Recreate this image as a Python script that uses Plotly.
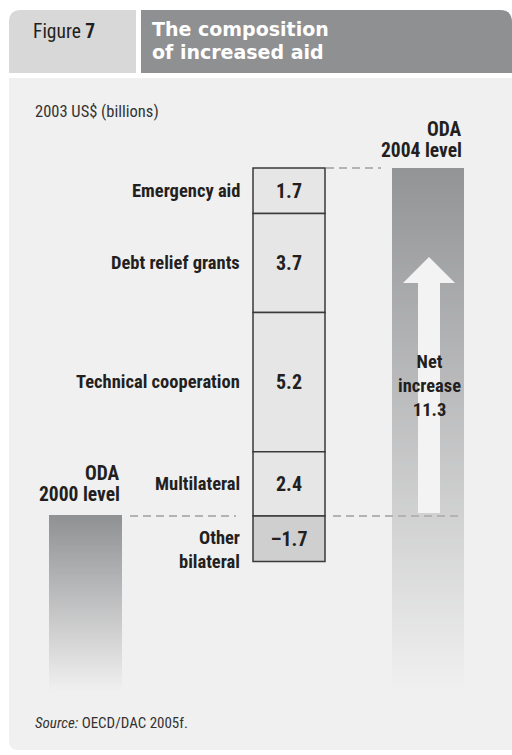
import plotly.graph_objects as go
import numpy as np

# ---- data ----
categories = ["Emergency aid", "Debt relief grants", "Technical cooperation", "Multilateral", "Other<br>bilateral"]
values = [1.7, 3.7, 5.2, 2.4, -1.7]
value_labels = ["1.7", "3.7", "5.2", "2.4", "\u20131.7"]
net_increase = 11.3

W, H = 512, 755
FONT = "Liberation Sans Narrow, Roboto Condensed, DejaVu Sans Condensed, Arial Narrow, sans-serif"
DARK = "#231f20"

# stacking: positives stack up from the 2000 level (0), negative hangs below
bases = []
cum = 0.0
for v in reversed(values):
    if v >= 0:
        bases.append(cum)
        cum += v
    else:
        bases.append(0.0)
bases = list(reversed(bases))
top_level = cum

# pixel <-> data mapping for layout
BASE_PX, TOP_PX = 516, 168
k = (BASE_PX - TOP_PX) / top_level
y_top = BASE_PX / k
y_bot = (BASE_PX - H) / k

def py2d(py):
    return (BASE_PX - py) / k

def pp(px, py):
    return px / W, 1 - py / H

def path_px(cmds):
    out = []
    for c in cmds:
        if isinstance(c, str):
            out.append(c)
        else:
            x, y = pp(*c)
            out.append(f"{x:.5f},{y:.5f}")
    return " ".join(out)

fig = go.Figure()

# gradient bars (heatmaps)
def grad_bar(x0, x1, ytop_d, ybot_d, c_top, c_bot):
    n = 120
    ys = np.linspace(ybot_d, ytop_d, n + 1)
    z = [[i] for i in range(n)]
    fig.add_trace(go.Heatmap(
        x=[x0, x1], y=ys, z=z, showscale=False, hoverinfo="skip",
        colorscale=[[0, c_bot], [1, c_top]], zsmooth=False))

bar_bottom = py2d(692)
grad_bar(49, 122, py2d(515), bar_bottom, "#909193", "#f0f0f0")
grad_bar(392, 464, top_level, bar_bottom, "#939496", "#f0f0f0")

# stacked component boxes
colors = ["#e6e6e6" if v > 0 else "#cfcfd0" for v in values]
fig.add_trace(go.Bar(
    x=[289] * len(values), y=values, base=bases, width=72,
    marker=dict(color=colors, line=dict(color="#3a3a3a", width=1.5)),
    text=value_labels, textposition="inside", insidetextanchor="middle",
    textangle=0, constraintext="none",
    textfont=dict(family=FONT, size=20, color=DARK, weight="bold"),
    hoverinfo="skip"))

shapes = []
# header and panel
shapes.append(dict(type="path", xref="paper", yref="paper", layer="below",
                   path=path_px(["M", (9, 73), "L", (9, 22), "Q", (9, 10), (21, 10), "L", (136, 10), "L", (136, 73), "Z"]),
                   fillcolor="#d8d8d8", line=dict(width=0)))
shapes.append(dict(type="path", xref="paper", yref="paper", layer="below",
                   path=path_px(["M", (141, 73), "L", (141, 10), "L", (500, 10), "Q", (512, 10), (512, 22), "L", (512, 73), "Z"]),
                   fillcolor="#8f9092", line=dict(width=0)))
shapes.append(dict(type="path", xref="paper", yref="paper", layer="below",
                   path=path_px(["M", (9, 78), "L", (512, 78), "L", (512, 750), "L", (18, 750), "Q", (9, 750), (9, 741), "Z"]),
                   fillcolor="#f0f0f0", line=dict(width=0)))

# dashed level lines
dash = dict(color="#b3b3b3", width=2, dash="8px,5px")
shapes.append(dict(type="line", xref="x", yref="y", x0=326, x1=381, y0=top_level, y1=top_level, line=dash))
shapes.append(dict(type="line", xref="x", yref="y", x0=130, x1=236, y0=0, y1=0, line=dash))
shapes.append(dict(type="line", xref="x", yref="y", x0=333, x1=460, y0=0, y1=0, line=dash))

# white arrow
a_bot = py2d(513)
a_head = py2d(283)
a_tip = py2d(257)
arrow = (f"M 418,{a_bot} L 440,{a_bot} L 440,{a_head} L 455,{a_head} L 429,{a_tip} "
         f"L 403,{a_head} L 418,{a_head} Z")
shapes.append(dict(type="path", xref="x", yref="y", path=arrow, fillcolor="#f3f3f3", line=dict(width=0)))

ann = []
def txt(x, y, s, size, xanchor="left", yanchor="middle", color=DARK, font=FONT, xref="x", yref="y", align="left", yshift=0):
    ann.append(dict(x=x, y=y, xref=xref, yref=yref, text=s, showarrow=False,
                    xanchor=xanchor, yanchor=yanchor, align=align, yshift=yshift,
                    font=dict(family=font, size=size, color=color)))

# header texts
txt(31 / W, 1 - 31 / H, "Figure <b>7</b>", 19.5, xref="paper", yref="paper")
TFONT = "DejaVu Sans, Liberation Sans, sans-serif"
txt(150 / W, 1 - 29 / H, "<b>The composition</b>", 19, xref="paper", yref="paper", color="#ffffff", font=TFONT)
txt(150 / W, 1 - 52 / H, "<b>of increased aid</b>", 19, xref="paper", yref="paper", color="#ffffff", font=TFONT)
txt(33 / W, 1 - 111 / H, "2003 US$ (billions)", 16.5, xref="paper", yref="paper", color="#333333")
txt(33 / W, 1 - 723 / H, "<i>Source:</i> OECD/DAC 2005f.", 15, xref="paper", yref="paper", color="#333333")

# category labels
for cat, v, b in zip(categories, values, bases):
    yc = b + v / 2
    if v < 0:
        txt(242, yc, f"<b>{cat}</b>", 18.5, xanchor="right", align="right", yshift=-11)
    else:
        txt(242, yc, f"<b>{cat}</b>", 18.5, xanchor="right", align="right")

# level labels
txt(122, py2d(473), "<b>ODA</b>", 19.5, xanchor="right")
txt(122, py2d(494), "<b>2000 level</b>", 19.5, xanchor="right")
txt(464, py2d(129), "<b>ODA</b>", 19.5, xanchor="right")
txt(464, py2d(150), "<b>2004 level</b>", 19.5, xanchor="right")

# net increase label
txt(429, py2d(386), f"<b>Net<br>increase<br>{net_increase}</b>", 18.5, xanchor="center", align="center")

fig.update_layout(
    width=W, height=H, margin=dict(l=0, r=0, t=0, b=0),
    paper_bgcolor="#ffffff", plot_bgcolor="rgba(0,0,0,0)",
    xaxis=dict(range=[0, W], visible=False, fixedrange=True),
    yaxis=dict(range=[y_bot, y_top], visible=False, fixedrange=True),
    showlegend=False, barmode="overlay",
    shapes=shapes, annotations=ann,
)

fig.write_html("out.html", config={"displayModeBar": False, "staticPlot": True},
               post_script="document.body.style.margin='0';document.body.style.overflow='hidden';")
